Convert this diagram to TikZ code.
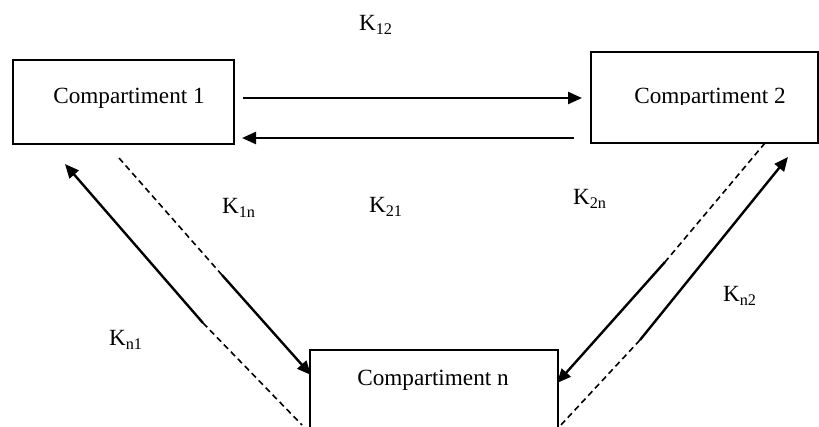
\documentclass[tikz,border=0pt]{standalone}
\usepackage{fontspec}
\setmainfont{Liberation Serif}
\usetikzlibrary{arrows.meta}
\begin{document}
\begin{tikzpicture}[x=0.5pt,y=-0.5pt,
  box/.style={draw=black, line width=0.6pt, inner sep=0pt, fill=none},
  lbl/.style={inner sep=0pt, font=\fontsize{11.6}{14}\selectfont},
  flow/.style={line width=1.2pt, -{Triangle[length=7pt,width=6pt]}},
  dashline/.style={line width=0.8pt, dash pattern=on 3pt off 2pt}
]
\clip (0,0) rectangle (819,427);
\fill[white] (0,0) rectangle (819,427);
% boxes
\node[box, minimum width=110.5pt, minimum height=42pt] (c1) at (123.5,102) {};
\node[box, minimum width=113.5pt, minimum height=45.5pt] (c2) at (704.5,97.5) {};
\node[box, minimum width=124pt, minimum height=55pt] (cn) at (434,405) {};
\node[lbl] (t1) at (129,98) {Compartiment 1};
\begin{scope}
\clip (592,40) rectangle (817,105);
\node[lbl] (t2) at (710,98) {Compartiment 2};
\end{scope}
\node[lbl] (tn) at (433,380) {Compartiment n};
% coordinates
\coordinate (a12s) at (243,98);
\coordinate (a12e) at (582,98);
\coordinate (a21s) at (574,138);
\coordinate (a21e) at (242,138);
\coordinate (ln1m) at (203,323);
\coordinate (ln1e) at (65,164);
\coordinate (ln1d) at (302,425);
\coordinate (l1nd) at (119,158);
\coordinate (l1nm) at (222,275);
\coordinate (l1ne) at (311,375);
\coordinate (r2nd) at (765,143);
\coordinate (r2nm) at (665,262);
\coordinate (r2ne) at (557,383);
\coordinate (rn2m) at (640,340);
\coordinate (rn2e) at (788,157);
\coordinate (rn2d) at (560,426);
% connectors
\draw[flow] (a12s) -- (a12e);
\draw[flow] (a21s) -- (a21e);
\draw[flow] (ln1m) -- (ln1e);
\draw[dashline] (ln1m) -- (ln1d);
\draw[dashline] (l1nd) -- (l1nm);
\draw[flow] (l1nm) -- (l1ne);
\draw[dashline] (r2nd) -- (r2nm);
\draw[flow] (r2nm) -- (r2ne);
\draw[flow] (rn2m) -- (rn2e);
\draw[dashline] (rn2m) -- (rn2d);
% labels
\node[lbl] (k12) at (376,25) {K\textsubscript{12}};
\node[lbl] (k1n) at (239,208) {K\textsubscript{1n}};
\node[lbl] (k21) at (386,207) {K\textsubscript{21}};
\node[lbl] (k2n) at (590,199) {K\textsubscript{2n}};
\node[lbl] (kn2) at (740,296) {K\textsubscript{n2}};
\node[lbl] (kn1) at (126,340) {K\textsubscript{n1}};
\end{tikzpicture}
\end{document}
